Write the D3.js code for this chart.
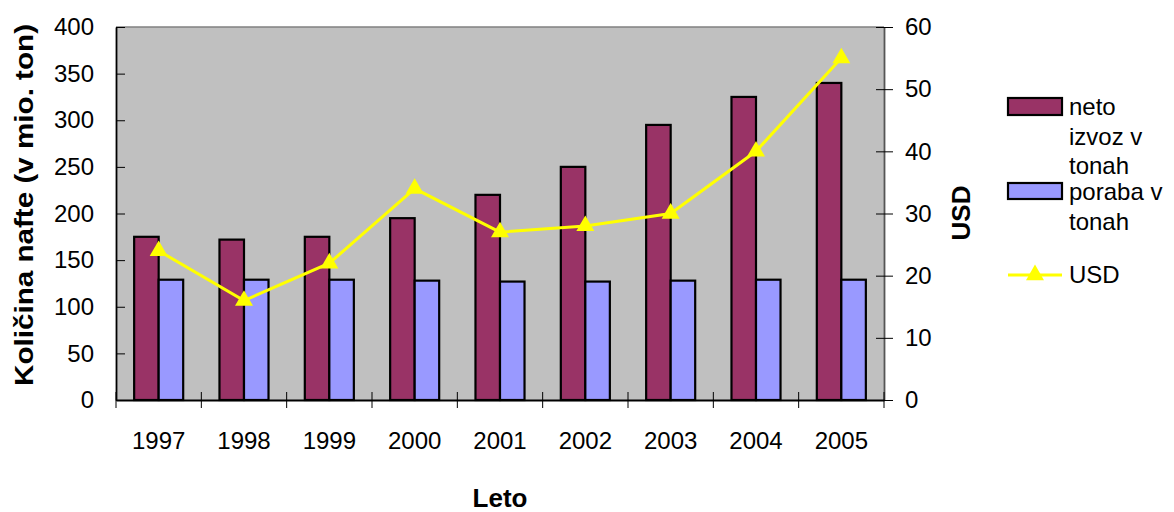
<!DOCTYPE html>
<html lang="sl">
<head>
    <meta charset="UTF-8">
    <title>Količina nafte</title>
    <script src="https://d3js.org/d3.v7.min.js"></script>
    <style>
        * { margin: 0; padding: 0; box-sizing: border-box; }
        html, body { width: 1174px; height: 512px; overflow: hidden; background: #fff; }
        svg { display: block; font-family: "Liberation Sans", Arial, sans-serif; }
    </style>
</head>
<body>
<svg id="chart" width="1174" height="512"></svg>
<script>
    const years = ["1997", "1998", "1999", "2000", "2001", "2002", "2003", "2004", "2005"]
    const netoIzvoz = [175, 172, 175, 195, 220, 250, 295, 325, 340]
    const poraba = [129, 129, 129, 128, 127, 127, 128, 129, 129]
    const usd = [24, 16, 22, 34, 27, 28, 30, 40, 55]
    const leftTicks = [0, 50, 100, 150, 200, 250, 300, 350, 400]
    const rightTicks = [0, 10, 20, 30, 40, 50, 60]
    const seriesNames = ["neto", "poraba"]
    const colors = { neto: "#993366", poraba: "#9999ff", usd: "#ffff00" }

    const m = { left: 116, right: 884, top: 27, bottom: 400 }
    const svg = d3.select("#chart")

    const x = d3.scaleBand().domain(years).range([m.left, m.right]).padding(0)
    const xs = d3.scaleBand().domain(seriesNames).range([0, x.bandwidth()])
        .paddingInner(0).paddingOuter(0.74)
    const yL = d3.scaleLinear().domain([0, 400]).range([m.bottom, m.top])
    const yR = d3.scaleLinear().domain([0, 60]).range([m.bottom, m.top])

    // plot background
    svg.append("rect")
        .attr("x", m.left).attr("y", m.top)
        .attr("width", m.right - m.left).attr("height", m.bottom - m.top)
        .attr("fill", "#c0c0c0")
    svg.append("line")
        .attr("x1", m.left).attr("x2", m.right).attr("y1", m.top).attr("y2", m.top)
        .attr("stroke", "#808080").attr("stroke-width", 1.5)

    // bars
    const rows = years.map((y, i) => ({ year: y, neto: netoIzvoz[i], poraba: poraba[i] }))
    const g = svg.append("g").selectAll("g")
        .data(rows)
        .join("g")
        .attr("transform", d => `translate(${x(d.year)},0)`)
    g.selectAll("rect")
        .data(d => seriesNames.map(k => ({ k, v: d[k] })))
        .join("rect")
        .attr("x", d => xs(d.k))
        .attr("width", xs.bandwidth())
        .attr("y", d => yL(d.v))
        .attr("height", d => yL(0) - yL(d.v))
        .attr("fill", d => colors[d.k])
        .attr("stroke", "#000")
        .attr("stroke-width", 2.2)

    // axes
    const axisL = svg.append("g")
        .attr("transform", `translate(${m.left},0)`)
        .call(d3.axisLeft(yL).tickValues(leftTicks).tickSizeInner(8).tickSizeOuter(0).tickPadding(14))
    axisL.selectAll(".tick line").attr("x2", 9)
    const axisR = svg.append("g")
        .attr("transform", `translate(${m.right},0)`)
        .call(d3.axisRight(yR).tickValues(rightTicks).tickSizeInner(9).tickSizeOuter(0).tickPadding(12))
    axisR.selectAll(".tick line").attr("x1", -8)
    axisR.select(".domain").attr("stroke", "#555")
    const axisB = svg.append("g")
        .attr("transform", `translate(0,${m.bottom})`)
        .call(d3.axisBottom(x).tickSize(0).tickPadding(32))
    const bounds = years.map(y => x(y)).concat([m.right])
    axisB.selectAll(".bound")
        .data(bounds)
        .join("line")
        .attr("class", "bound")
        .attr("x1", d => d).attr("x2", d => d)
        .attr("y1", -8).attr("y2", 8)
        .attr("stroke", "#000")
    svg.selectAll(".tick text")
        .attr("font-size", 24)
        .attr("font-family", "Liberation Sans, Arial, sans-serif")
        .attr("fill", "#000")
    svg.selectAll(".domain").attr("stroke-width", 1.8)

    // usd line
    const line = d3.line()
        .x((d, i) => x(years[i]) + x.bandwidth() / 2)
        .y(d => yR(d))
    svg.append("path")
        .datum(usd)
        .attr("d", line)
        .attr("fill", "none")
        .attr("stroke", colors.usd)
        .attr("stroke-width", 3)
    const tri = d3.symbol().type(d3.symbolTriangle).size(140)
    svg.selectAll(".marker")
        .data(usd)
        .join("path")
        .attr("class", "marker")
        .attr("d", tri)
        .attr("transform", (d, i) => `translate(${x(years[i]) + x.bandwidth() / 2},${yR(d)})`)
        .attr("fill", colors.usd)

    // titles
    svg.append("text")
        .attr("transform", "translate(33,205) rotate(-90)")
        .attr("text-anchor", "middle")
        .attr("font-size", 26).attr("font-weight", "bold")
        .attr("textLength", 362).attr("lengthAdjust", "spacingAndGlyphs")
        .text("Količina nafte (v mio. ton)")
    svg.append("text")
        .attr("transform", "translate(970,213) rotate(-90)")
        .attr("text-anchor", "middle")
        .attr("font-size", 26).attr("font-weight", "bold")
        .text("USD")
    svg.append("text")
        .attr("x", 500).attr("y", 507)
        .attr("text-anchor", "middle")
        .attr("font-size", 26).attr("font-weight", "bold")
        .text("Leto")

    // legend
    const lg = svg.append("g").attr("font-size", 24)
    lg.append("rect").attr("x", 1008).attr("y", 98).attr("width", 54).attr("height", 17)
        .attr("fill", colors.neto).attr("stroke", "#000").attr("stroke-width", 2.2)
    lg.append("rect").attr("x", 1008).attr("y", 183).attr("width", 54).attr("height", 16)
        .attr("fill", colors.poraba).attr("stroke", "#000").attr("stroke-width", 2.2)
    lg.append("line").attr("x1", 1008).attr("x2", 1062).attr("y1", 275).attr("y2", 275)
        .attr("stroke", colors.usd).attr("stroke-width", 3)
    lg.append("path").attr("d", tri).attr("transform", "translate(1035,275)").attr("fill", colors.usd)
    const legendLines = [["neto", 115], ["izvoz v", 145], ["tonah", 174], ["poraba v", 200], ["tonah", 230], ["USD", 283]]
    lg.selectAll(".lt")
        .data(legendLines)
        .join("text")
        .attr("class", "lt")
        .attr("x", 1069)
        .attr("y", d => d[1])
        .text(d => d[0])
</script>
</body>
</html>
